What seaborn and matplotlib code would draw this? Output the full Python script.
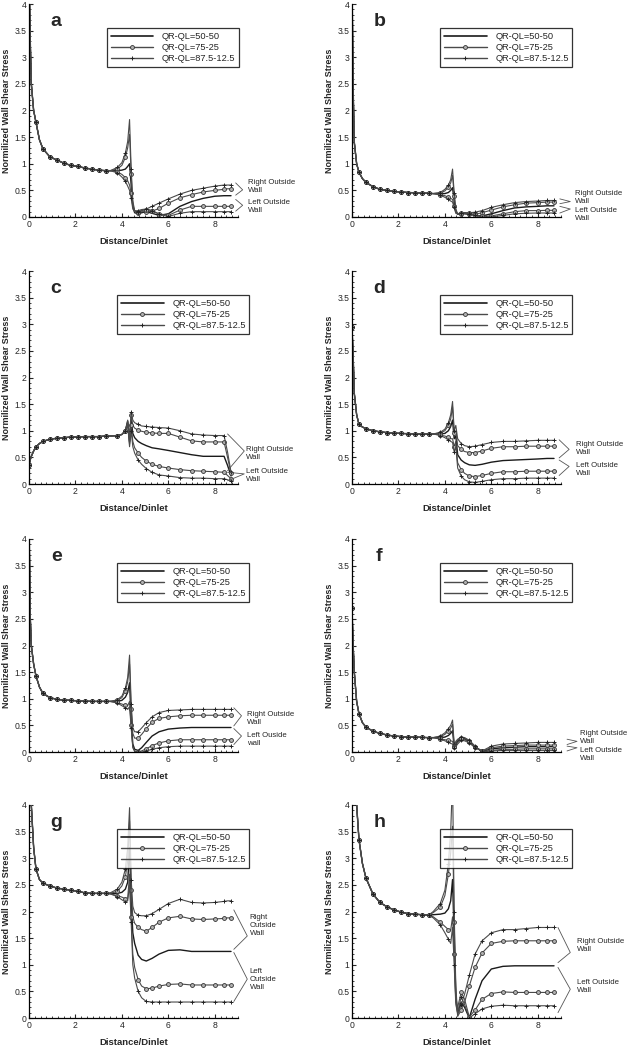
import matplotlib
matplotlib.use("Agg")
import matplotlib.pyplot as plt
from matplotlib.lines import Line2D
from matplotlib.ticker import FuncFormatter, MultipleLocator
import pandas as pd
import seaborn as sns

# x positions (Distance/Dinlet) - upstream part shared by all curves, then the split part
x_up = [0.0, 0.05, 0.1, 0.2, 0.3, 0.45, 0.6, 0.9, 1.2, 1.5, 1.8, 2.1, 2.4, 2.7, 3.0, 3.3]
x_dn = [3.5, 3.8, 4.0, 4.15, 4.25, 4.33, 4.4, 4.47, 4.55, 4.7, 4.85, 5.05,
        5.3, 5.6, 6.0, 6.5, 7.0, 7.5, 8.0, 8.4, 8.55, 8.7]

legend_labels = ["QR-QL=50-50", "QR-QL=75-25", "QR-QL=87.5-12.5"]

# panel a
a_up = [4.6, 3.4, 2.5, 2.0, 1.78, 1.45, 1.28, 1.13, 1.07, 1.01, 0.97, 0.95, 0.92, 0.9, 0.88, 0.87]
a_r875 = [0.87, 0.93, 1.02, 1.2, 1.42, 1.83, 0.9, 0.3, 0.12, 0.1, 0.12, 0.15, 0.2, 0.26, 0.34, 0.43, 0.5, 0.54, 0.58, 0.6, 0.6, 0.6]
a_r75 = [0.87, 0.9, 0.97, 1.12, 1.3, 1.55, 0.8, 0.25, 0.1, 0.08, 0.1, 0.1, 0.11, 0.16, 0.26, 0.36, 0.42, 0.47, 0.5, 0.52, 0.53, 0.53]
a_m50 = [0.87, 0.87, 0.88, 0.9, 0.95, 1.0, 0.6, 0.2, 0.08, 0.06, 0.08, 0.1, 0.07, 0.03, 0.06, 0.2, 0.29, 0.35, 0.39, 0.4, 0.4, 0.4]
a_l75 = [0.87, 0.85, 0.8, 0.74, 0.68, 0.6, 0.45, 0.2, 0.12, 0.1, 0.12, 0.14, 0.12, 0.06, 0.03, 0.13, 0.2, 0.2, 0.2, 0.2, 0.2, 0.2]
a_l875 = [0.87, 0.83, 0.75, 0.67, 0.58, 0.5, 0.35, 0.15, 0.1, 0.12, 0.14, 0.15, 0.12, 0.05, 0.01, 0.07, 0.1, 0.1, 0.1, 0.1, 0.1, 0.1]

# panel b
b_up = [4.5, 2.4, 1.4, 1.0, 0.84, 0.72, 0.65, 0.57, 0.52, 0.5, 0.48, 0.47, 0.46, 0.455, 0.45, 0.445]
b_r875 = [0.44, 0.46, 0.52, 0.6, 0.7, 0.9, 0.45, 0.15, 0.06, 0.07, 0.08, 0.08, 0.09, 0.12, 0.18, 0.23, 0.27, 0.29, 0.3, 0.31, 0.31, 0.31]
b_r75 = [0.44, 0.45, 0.49, 0.56, 0.64, 0.78, 0.4, 0.12, 0.05, 0.06, 0.07, 0.06, 0.05, 0.08, 0.13, 0.19, 0.23, 0.26, 0.27, 0.28, 0.28, 0.28]
b_m50 = [0.44, 0.44, 0.44, 0.46, 0.5, 0.55, 0.3, 0.1, 0.05, 0.06, 0.06, 0.05, 0.03, 0.02, 0.06, 0.12, 0.17, 0.19, 0.2, 0.21, 0.21, 0.21]
b_l75 = [0.44, 0.42, 0.4, 0.37, 0.35, 0.33, 0.2, 0.08, 0.06, 0.08, 0.08, 0.07, 0.04, 0.01, 0.02, 0.06, 0.1, 0.12, 0.12, 0.125, 0.125, 0.125]
b_l875 = [0.44, 0.41, 0.37, 0.33, 0.3, 0.28, 0.18, 0.07, 0.06, 0.08, 0.08, 0.06, 0.03, 0.0, 0.0, 0.03, 0.06, 0.07, 0.075, 0.075, 0.075, 0.075]

# panel c
c_up = [0.35, 0.45, 0.52, 0.62, 0.7, 0.76, 0.8, 0.84, 0.86, 0.87, 0.88, 0.885, 0.89, 0.89, 0.89, 0.9]
c_r875 = [0.9, 0.91, 0.93, 1.0, 1.15, 0.9, 1.35, 1.2, 1.15, 1.12, 1.09, 1.08, 1.07, 1.06, 1.05, 1.0, 0.94, 0.92, 0.91, 0.91, 0.6, 0.22]
c_r75 = [0.9, 0.91, 0.93, 1.0, 1.2, 0.85, 1.3, 1.1, 1.05, 1.01, 0.99, 0.97, 0.96, 0.95, 0.95, 0.88, 0.81, 0.79, 0.79, 0.79, 0.5, 0.2]
c_m50 = [0.9, 0.91, 0.93, 1.0, 1.18, 0.8, 1.2, 0.95, 0.87, 0.8, 0.76, 0.72, 0.68, 0.66, 0.63, 0.59, 0.55, 0.52, 0.52, 0.52, 0.35, 0.15]
c_l75 = [0.9, 0.91, 0.93, 1.0, 1.15, 0.75, 1.1, 0.8, 0.68, 0.58, 0.5, 0.43, 0.37, 0.33, 0.3, 0.27, 0.25, 0.24, 0.23, 0.22, 0.16, 0.1]
c_l875 = [0.9, 0.91, 0.93, 1.0, 1.1, 0.7, 1.0, 0.7, 0.58, 0.45, 0.37, 0.29, 0.22, 0.17, 0.15, 0.12, 0.11, 0.11, 0.1, 0.1, 0.08, 0.05]

# panel d
d_up = [2.95, 2.4, 1.7, 1.3, 1.12, 1.07, 1.04, 1.0, 0.98, 0.965, 0.955, 0.95, 0.945, 0.94, 0.94, 0.94]
d_r875 = [0.94, 0.97, 1.03, 1.15, 1.3, 1.55, 1.0, 1.1, 0.85, 0.76, 0.72, 0.7, 0.71, 0.74, 0.78, 0.8, 0.8, 0.81, 0.82, 0.82, 0.82, 0.82]
d_r75 = [0.94, 0.96, 1.0, 1.1, 1.22, 1.45, 0.95, 1.0, 0.72, 0.65, 0.61, 0.59, 0.59, 0.62, 0.67, 0.7, 0.7, 0.71, 0.71, 0.71, 0.71, 0.71]
d_m50 = [0.94, 0.94, 0.95, 1.0, 1.08, 1.2, 0.85, 0.9, 0.55, 0.45, 0.4, 0.36, 0.35, 0.37, 0.41, 0.44, 0.45, 0.46, 0.47, 0.48, 0.48, 0.48]
d_l75 = [0.94, 0.92, 0.9, 0.88, 0.85, 0.85, 0.7, 0.8, 0.4, 0.27, 0.2, 0.15, 0.14, 0.16, 0.2, 0.23, 0.23, 0.24, 0.24, 0.24, 0.24, 0.24]
d_l875 = [0.94, 0.91, 0.87, 0.83, 0.8, 0.78, 0.6, 0.7, 0.3, 0.15, 0.08, 0.04, 0.03, 0.05, 0.08, 0.1, 0.1, 0.11, 0.11, 0.11, 0.11, 0.11]

# panel e
e_up = [4.5, 2.6, 2.0, 1.65, 1.43, 1.22, 1.1, 1.02, 0.99, 0.975, 0.97, 0.96, 0.955, 0.95, 0.95, 0.95]
e_r875 = [0.95, 0.98, 1.05, 1.2, 1.4, 1.82, 0.9, 0.45, 0.38, 0.38, 0.45, 0.55, 0.66, 0.74, 0.78, 0.79, 0.8, 0.8, 0.8, 0.8, 0.8, 0.8]
e_r75 = [0.95, 0.97, 1.02, 1.15, 1.32, 1.65, 0.8, 0.35, 0.26, 0.26, 0.33, 0.44, 0.56, 0.63, 0.66, 0.68, 0.69, 0.69, 0.69, 0.69, 0.69, 0.69]
e_m50 = [0.95, 0.95, 0.97, 1.03, 1.12, 1.3, 0.6, 0.15, 0.05, 0.03, 0.08, 0.18, 0.3, 0.38, 0.43, 0.45, 0.46, 0.46, 0.46, 0.46, 0.46, 0.46]
e_l75 = [0.95, 0.93, 0.9, 0.88, 0.87, 0.95, 0.5, 0.1, 0.02, 0.0, 0.02, 0.06, 0.12, 0.17, 0.21, 0.23, 0.23, 0.23, 0.23, 0.23, 0.23, 0.23]
e_l875 = [0.95, 0.92, 0.87, 0.83, 0.8, 0.85, 0.45, 0.08, 0.01, 0.0, 0.0, 0.02, 0.05, 0.08, 0.1, 0.11, 0.11, 0.11, 0.11, 0.11, 0.11, 0.11]

# panel f
f_up = [2.7, 2.0, 1.5, 0.95, 0.72, 0.55, 0.47, 0.39, 0.35, 0.32, 0.3, 0.29, 0.28, 0.28, 0.275, 0.27]
f_r875 = [0.27, 0.3, 0.36, 0.44, 0.5, 0.6, 0.15, 0.1, 0.15, 0.22, 0.21, 0.17, 0.08, 0.02, 0.11, 0.15, 0.16, 0.17, 0.18, 0.18, 0.18, 0.18]
f_r75 = [0.27, 0.29, 0.33, 0.4, 0.45, 0.52, 0.12, 0.12, 0.18, 0.24, 0.23, 0.19, 0.09, 0.02, 0.08, 0.11, 0.12, 0.13, 0.13, 0.13, 0.13, 0.13]
f_m50 = [0.27, 0.27, 0.28, 0.31, 0.35, 0.4, 0.1, 0.15, 0.2, 0.26, 0.25, 0.2, 0.1, 0.01, 0.06, 0.08, 0.09, 0.1, 0.1, 0.1, 0.1, 0.1]
f_l75 = [0.27, 0.25, 0.23, 0.22, 0.21, 0.2, 0.1, 0.18, 0.22, 0.27, 0.26, 0.21, 0.1, 0.01, 0.03, 0.05, 0.05, 0.06, 0.06, 0.06, 0.06, 0.06]
f_l875 = [0.27, 0.24, 0.21, 0.18, 0.16, 0.15, 0.08, 0.2, 0.24, 0.28, 0.27, 0.22, 0.11, 0.0, 0.02, 0.03, 0.03, 0.03, 0.03, 0.03, 0.03, 0.03]

# panel g
g_up = [4.6, 4.3, 4.0, 3.2, 2.8, 2.6, 2.53, 2.48, 2.44, 2.42, 2.4, 2.38, 2.35, 2.34, 2.34, 2.34]
g_r875 = [2.35, 2.42, 2.55, 2.8, 3.2, 3.95, 2.6, 2.1, 1.98, 1.93, 1.92, 1.92, 1.96, 2.04, 2.15, 2.23, 2.17, 2.16, 2.17, 2.19, 2.2, 2.2]
g_r75 = [2.34, 2.38, 2.48, 2.65, 2.95, 3.7, 2.4, 1.9, 1.78, 1.7, 1.66, 1.63, 1.7, 1.8, 1.88, 1.91, 1.86, 1.85, 1.86, 1.87, 1.88, 1.88]
g_m50 = [2.34, 2.34, 2.36, 2.42, 2.55, 3.2, 2.2, 1.6, 1.4, 1.18, 1.1, 1.07, 1.12, 1.2, 1.27, 1.28, 1.25, 1.25, 1.25, 1.25, 1.25, 1.25]
g_l75 = [2.33, 2.3, 2.27, 2.24, 2.25, 2.7, 1.9, 1.2, 0.95, 0.72, 0.6, 0.55, 0.56, 0.6, 0.63, 0.64, 0.62, 0.62, 0.62, 0.62, 0.62, 0.62]
g_l875 = [2.33, 2.28, 2.22, 2.18, 2.2, 2.5, 1.8, 1.0, 0.75, 0.5, 0.38, 0.31, 0.3, 0.3, 0.3, 0.3, 0.3, 0.3, 0.3, 0.3, 0.3, 0.3]

# panel h
h_up = [5.0, 4.8, 4.5, 4.0, 3.35, 2.9, 2.63, 2.33, 2.17, 2.09, 2.03, 1.99, 1.96, 1.95, 1.94, 1.93]
h_r875 = [2.0, 2.15, 2.4, 2.9, 3.5, 4.5, 2.0, 0.6, 0.05, 0.25, 0.45, 0.8, 1.2, 1.45, 1.6, 1.66, 1.66, 1.68, 1.7, 1.7, 1.7, 1.7]
h_r75 = [1.98, 2.08, 2.3, 2.7, 3.1, 3.6, 1.8, 0.5, 0.03, 0.15, 0.3, 0.6, 0.95, 1.22, 1.4, 1.44, 1.45, 1.45, 1.45, 1.45, 1.45, 1.45]
h_m50 = [1.94, 1.95, 1.97, 2.05, 2.2, 2.6, 1.5, 0.4, 0.1, 0.3, 0.2, 0.0, 0.35, 0.7, 0.92, 0.97, 0.98, 0.98, 0.98, 0.98, 0.98, 0.98]
h_l75 = [1.9, 1.8, 1.72, 1.66, 1.65, 1.9, 1.2, 0.3, 0.2, 0.48, 0.35, 0.02, 0.15, 0.35, 0.46, 0.49, 0.48, 0.48, 0.48, 0.48, 0.48, 0.48]
h_l875 = [1.88, 1.75, 1.6, 1.48, 1.4, 1.7, 1.0, 0.25, 0.1, 0.4, 0.25, 0.0, 0.08, 0.17, 0.22, 0.24, 0.23, 0.23, 0.23, 0.23, 0.23, 0.23]

panels = {
    "a": (a_up, a_m50, a_r75, a_l75, a_r875, a_l875),
    "b": (b_up, b_m50, b_r75, b_l75, b_r875, b_l875),
    "c": (c_up, c_m50, c_r75, c_l75, c_r875, c_l875),
    "d": (d_up, d_m50, d_r75, d_l75, d_r875, d_l875),
    "e": (e_up, e_m50, e_r75, e_l75, e_r875, e_l875),
    "f": (f_up, f_m50, f_r75, f_l75, f_r875, f_l875),
    "g": (g_up, g_m50, g_r75, g_l75, g_r875, g_l875),
    "h": (h_up, h_m50, h_r75, h_l75, h_r875, h_l875),
}

# annotation labels on the right of each panel
right_text = {k: "Right Outside\nWall" for k in panels}
left_text = {k: "Left Outside\nWall" for k in panels}
right_text["g"] = "Right\nOutside\nWall"
left_text["g"] = "Left\nOutside\nWall"
left_text["e"] = "Left Ouside\nwall"

# bracket layout: arm x, tip x, right (top, bottom, tip), left (top, bottom, tip), text x, text y's
brackets = {
    "a": (8.9, 9.2, (0.64, 0.41, 0.51), (0.33, 0.11, 0.22), 9.45, 0.58, 0.2),
    "b": (8.95, 9.4, (0.34, 0.25, 0.29), (0.2, 0.075, 0.15), 9.6, 0.37, 0.05),
    "c": (8.55, 9.27, (0.94, 0.25, 0.62), (0.22, 0.06, 0.19), 9.34, 0.58, 0.16),
    "d": (8.92, 9.35, (0.83, 0.49, 0.65), (0.45, 0.16, 0.33), 9.64, 0.66, 0.27),
    "e": (8.82, 9.15, (0.83, 0.49, 0.68), (0.44, 0.14, 0.3), 9.4, 0.63, 0.23),
    "f": (9.26, 9.69, (0.24, 0.14, 0.2), (0.11, 0.02, 0.08), 9.83, 0.27, -0.04),
    "g": (8.82, 9.4, (2.03, 1.29, 1.54), (1.23, 0.31, 0.73), 9.5, 1.73, 0.73),
    "h": (8.87, 9.4, (1.7, 1.04, 1.23), (0.95, 0.1, 0.54), 9.69, 1.36, 0.59),
}
# legend right edge (axes fraction)
legend_x = {k: 1.055 for k in panels}
legend_x["a"] = 1.005

# axes placement in pixels
col_left = [29, 352]
row_top = [4, 271, 539, 805]
ax_w, ax_h = 209, 213
W, H = 627, 1048

sns.set_style("ticks")
plt.rcParams["font.family"] = ["Liberation Sans", "DejaVu Sans"]
plt.rcParams["xtick.direction"] = "in"
plt.rcParams["ytick.direction"] = "in"

fig = plt.figure(figsize=(W / 100, H / 100), dpi=100)


def marker_idx(xs, gap=0.25):
    keep, last = [], None
    for i, v in enumerate(xs):
        if last is None or v - last >= gap:
            keep.append(i)
            last = v
    return keep


line_dark = "#1a1a1a"
line_grey = "#4a4a4a"
styles = [
    dict(color=line_dark, lw=1.0, marker=None),
    dict(color=line_grey, lw=0.8, marker="o", ms=2.8, mfc="#b0b0b0", mec="#333333", mew=0.6),
    dict(color=line_grey, lw=0.8, marker="o", ms=2.8, mfc="#b0b0b0", mec="#333333", mew=0.6),
    dict(color=line_grey, lw=0.8, marker="+", ms=3.5, mfc="none", mec="#222222", mew=0.7),
    dict(color=line_grey, lw=0.8, marker="+", ms=3.5, mfc="none", mec="#222222", mew=0.7),
]

xs_all = x_up + x_dn
mk = marker_idx(xs_all)

for i, (key, vals) in enumerate(panels.items()):
    r, c = divmod(i, 2)
    left = col_left[c] / W
    bottom = 1 - (row_top[r] + ax_h) / H
    ax = fig.add_axes([left, bottom, ax_w / W, ax_h / H])

    up = vals[0]
    for s, st in zip(vals[1:], styles):
        df = pd.DataFrame({"x": xs_all, "y": up + s})
        kw = dict(color=st["color"], linewidth=st["lw"])
        if st["marker"]:
            kw.update(marker=st["marker"], markersize=st["ms"], markerfacecolor=st["mfc"],
                      markeredgecolor=st["mec"], markeredgewidth=st["mew"], markevery=mk)
        sns.lineplot(data=df, x="x", y="y", ax=ax, sort=False, estimator=None,
                     errorbar=None, legend=False, **kw)

    ax.set_xlim(0, 9)
    ax.set_ylim(0, 4)
    ax.xaxis.set_major_locator(MultipleLocator(2))
    ax.xaxis.set_minor_locator(MultipleLocator(0.25))
    ax.yaxis.set_major_locator(MultipleLocator(0.5))
    ax.yaxis.set_minor_locator(MultipleLocator(0.1))
    ax.yaxis.set_major_formatter(FuncFormatter(lambda v, p: f"{v:g}"))
    ax.tick_params(which="major", length=3, width=0.8, labelsize=6.2, pad=2)
    ax.tick_params(which="minor", length=1.6, width=0.6)
    sns.despine(ax=ax)
    for sp in ["left", "bottom"]:
        ax.spines[sp].set_linewidth(0.9)
        ax.spines[sp].set_color("black")
    ax.set_xlabel("Distance/Dinlet", fontsize=6.8, fontweight="bold", labelpad=6)
    ax.set_ylabel("Normilized Wall Shear Stress", fontsize=6.5, fontweight="bold", labelpad=2)

    ax.text(0.13, 0.92, key, transform=ax.transAxes, fontsize=14, fontweight="bold",
            ha="center", va="center")

    handles = [Line2D([], [], color=st["color"], lw=st["lw"] + 0.2, marker=st["marker"] or "",
                      markersize=st.get("ms", 0), markerfacecolor=st.get("mfc", "none"),
                      markeredgecolor=st.get("mec", st["color"]), markeredgewidth=st.get("mew", 0))
               for st in (styles[0], styles[1], styles[3])]
    leg = ax.legend(handles, legend_labels, loc="upper right",
                    bbox_to_anchor=(legend_x[key], 0.887),
                    fontsize=6.7, frameon=True, fancybox=False, handlelength=4.6,
                    handletextpad=0.9, labelspacing=0.22, borderpad=0.4, borderaxespad=0)
    leg.get_frame().set_edgecolor("black")
    leg.get_frame().set_linewidth(0.9)

    arm_x, tip_x, rb, lb, tx, ry, ly = brackets[key]
    for top, bot, tip in (rb, lb):
        ax.plot([arm_x, tip_x, arm_x], [top, tip, bot], color="#555555", lw=0.6, clip_on=False)
    ax.text(tx, ry, right_text[key], fontsize=5.6, ha="left", va="center", linespacing=1.2)
    ax.text(tx, ly, left_text[key], fontsize=5.6, ha="left", va="center", linespacing=1.2)

fig.savefig("out.png", dpi=100)
